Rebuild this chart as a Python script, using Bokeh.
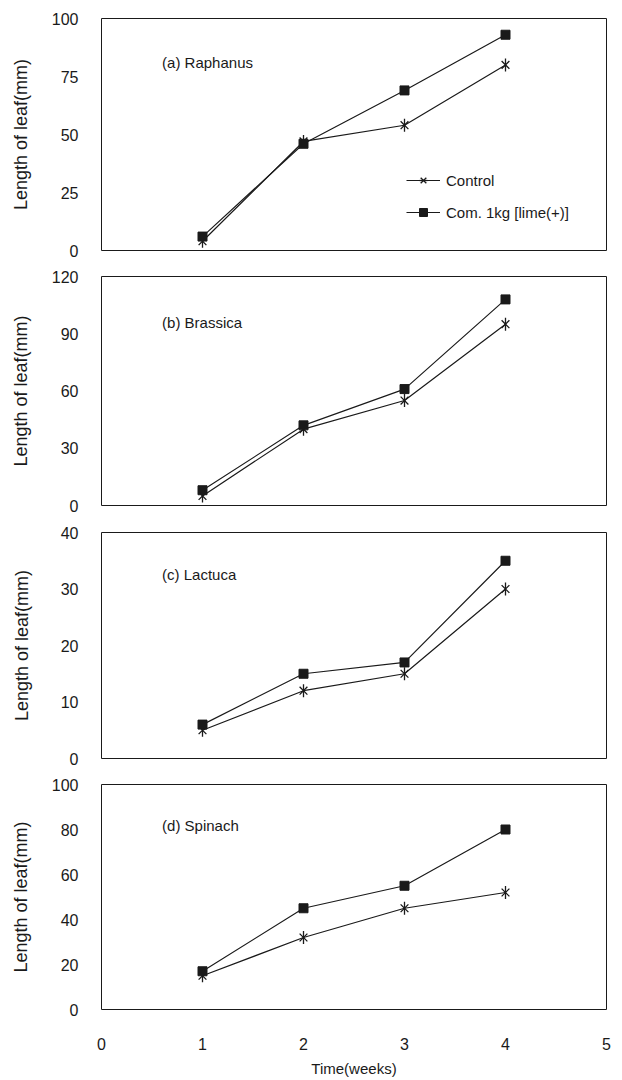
import math
from bokeh.plotting import figure
from bokeh.models import Range1d, FixedTicker, Label, Legend, LegendItem
from bokeh.layouts import column
from bokeh.embed import file_html
from bokeh.resources import INLINE

weeks = [1, 2, 3, 4]
x_ticks = [0, 1, 2, 3, 4, 5]
series_names = ["Control", "Com. 1kg [lime(+)]"]

raphanus_control = [4, 47, 54, 80]
raphanus_com = [6, 46, 69, 93]
brassica_control = [5, 40, 55, 95]
brassica_com = [8, 42, 61, 108]
lactuca_control = [5, 12, 15, 30]
lactuca_com = [6, 15, 17, 35]
spinach_control = [15, 32, 45, 52]
spinach_com = [17, 45, 55, 80]

panel_titles = ["(a)  Raphanus", "(b)  Brassica", "(c)  Lactuca", "(d)  Spinach"]
y_maxes = [100, 120, 40, 100]
y_steps = [25, 30, 10, 20]

FONT = "Liberation Sans"
INK = "#1a1a1a"

panels = [
    (raphanus_control, raphanus_com),
    (brassica_control, brassica_com),
    (lactuca_control, lactuca_com),
    (spinach_control, spinach_com),
]

# layout per panel
heights = [263, 256, 252, 308]
tops = [18, 13, 13, 13]
bottoms = [13, 14, 13, 66]
title_y = [81.2, 95.9, 32.6, 81.7]
lab_standoff = [18, 18, 26, 18]

figs = []
for i, (ctrl, com) in enumerate(panels):
    last = i == 3
    p = figure(width=620, height=heights[i], output_backend="svg", toolbar_location=None,
               x_range=Range1d(0, 5), y_range=Range1d(0, y_maxes[i]),
               min_border_left=101, min_border_right=14,
               min_border_top=tops[i], min_border_bottom=bottoms[i])
    p.xgrid.visible = False
    p.ygrid.visible = False
    p.outline_line_color = INK
    p.outline_line_width = 1
    p.background_fill_color = "white"
    p.border_fill_color = "white"

    ya = p.yaxis[0]
    ya.ticker = FixedTicker(ticks=list(range(0, y_maxes[i] + 1, y_steps[i])))
    ya.axis_line_color = None
    ya.major_tick_line_color = None
    ya.minor_tick_line_color = None
    ya.major_label_standoff = 17
    ya.major_label_text_font = FONT
    ya.major_label_text_font_size = "16px"
    ya.major_label_text_color = INK
    ya.axis_label = "Length of leaf(mm)"
    ya.axis_label_text_font = FONT
    ya.axis_label_text_font_size = "18px"
    ya.axis_label_text_font_style = "normal"
    ya.axis_label_text_color = INK
    ya.axis_label_standoff = lab_standoff[i]

    xa = p.xaxis[0]
    if last:
        xa.ticker = FixedTicker(ticks=x_ticks)
        xa.axis_line_color = None
        xa.major_tick_line_color = None
        xa.minor_tick_line_color = None
        xa.major_label_standoff = 22
        xa.major_label_text_font = FONT
        xa.major_label_text_font_size = "16px"
        xa.major_label_text_color = INK
        xa.axis_label = "Time(weeks)"
        xa.axis_label_text_font = FONT
        xa.axis_label_text_font_size = "15px"
        xa.axis_label_text_font_style = "normal"
        xa.axis_label_text_color = INK
        xa.axis_label_standoff = 7
    else:
        xa.visible = False

    l1 = p.line(weeks, ctrl, line_color=INK, line_width=1.2)
    m1a = p.scatter(weeks, ctrl, marker="x", size=11, line_color=INK, line_width=1.3)
    m1b = p.scatter(weeks, ctrl, marker="dash", angle=math.pi / 2, size=13, line_color=INK, line_width=1.3)
    l2 = p.line(weeks, com, line_color=INK, line_width=1.2)
    m2 = p.scatter(weeks, com, marker="square", size=9, fill_color=INK, line_color=INK)

    p.add_layout(Label(x=0.6, y=title_y[i], text=panel_titles[i], text_font=FONT,
                       text_font_size="15px", text_color=INK, text_baseline="middle"))

    if i == 0:
        leg = Legend(items=[LegendItem(label=series_names[0], renderers=[l1, m1a, m1b]),
                            LegendItem(label=series_names[1], renderers=[l2, m2])],
                     location=(305, 28), padding=0, margin=0, spacing=12,
                     glyph_width=34, glyph_height=20, label_height=20, label_standoff=6,
                     border_line_color=None, background_fill_alpha=0,
                     label_text_font=FONT, label_text_font_size="15px", label_text_color=INK)
        p.add_layout(leg, "center")
    figs.append(p)

layout = column(*figs, spacing=0)
open("out.html", "w").write(file_html(layout, INLINE))
